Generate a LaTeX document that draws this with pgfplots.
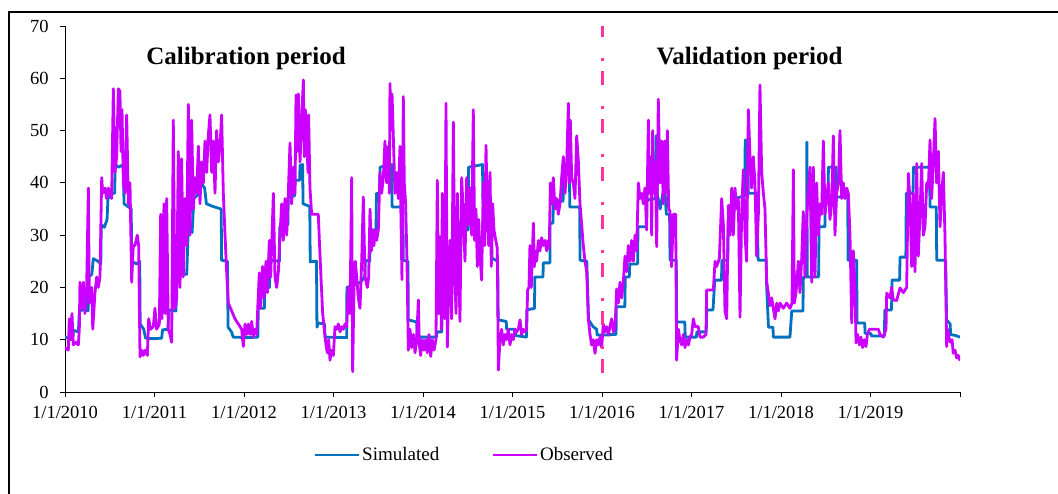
\documentclass[border=0pt]{standalone}
\usepackage{fontspec}
\setmainfont{Liberation Serif}
\usepackage{pgfplots}
\usepackage{pgfplotstable}
\pgfplotsset{compat=1.18}
\definecolor{simblue}{HTML}{0070C0}
\definecolor{obsmag}{HTML}{CC00FF}
\definecolor{divpink}{HTML}{FF3399}

\pgfplotstableread{
x y
2010.000 10.5
2010.050 10.2
2010.090 10.6
2010.093 11.8
2010.150 11.5
2010.160 15.5
2010.220 15.8
2010.258 15.5
2010.262 22
2010.300 22.5
2010.316 25.5
2010.370 25
2010.400 24.5
2010.405 32
2010.440 31.5
2010.470 33
2010.480 37
2010.520 38
2010.555 38
2010.560 43.5
2010.600 43
2010.650 43.5
2010.660 36
2010.700 35.5
2010.740 35
2010.745 25
2010.800 24.5
2010.835 25
2010.840 13
2010.880 12
2010.900 10.3
2011.000 10.2
2011.080 10.3
2011.090 11.9
2011.150 12
2011.160 15.7
2011.240 15.5
2011.250 22.7
2011.360 22.5
2011.378 31.6
2011.420 30.5
2011.440 37
2011.500 38
2011.520 40
2011.560 39
2011.580 36
2011.650 35.5
2011.745 35
2011.750 25.2
2011.815 25
2011.822 12.4
2011.860 11.5
2011.880 10.5
2012.050 10.4
2012.155 10.5
2012.160 17
2012.190 16
2012.228 16
2012.232 20
2012.285 20
2012.290 25.2
2012.395 25
2012.400 31.6
2012.490 32
2012.495 37.3
2012.565 37.5
2012.570 40.5
2012.622 40.5
2012.626 43.4
2012.655 43.5
2012.660 36
2012.735 35.5
2012.740 24.9
2012.810 25
2012.815 12.4
2012.830 13.2
2012.900 13
2012.905 10.5
2013.147 10.4
2013.150 20
2013.300 21
2013.350 22
2013.355 25.2
2013.405 25
2013.410 31
2013.475 31
2013.480 38
2013.515 38
2013.520 43
2013.650 43.5
2013.655 35.4
2013.775 35.4
2013.780 25.2
2013.832 25
2013.836 13.8
2013.930 13.4
2013.935 10.5
2014.150 10.5
2014.155 11.5
2014.210 11.5
2014.215 21
2014.400 22
2014.410 31
2014.505 31
2014.510 43
2014.665 43.5
2014.670 36
2014.765 36
2014.770 25.6
2014.835 25
2014.840 13.8
2014.930 13.5
2014.935 12
2015.030 12
2015.035 10.8
2015.155 10.5
2015.160 15.7
2015.245 16
2015.250 22
2015.340 22
2015.345 24.7
2015.418 24.7
2015.420 32.3
2015.452 32.3
2015.456 36.7
2015.565 36.5
2015.570 43
2015.636 43
2015.640 35.4
2015.750 35.4
2015.755 25.2
2015.830 25
2015.850 13.8
2015.900 12.5
2015.940 12
2015.945 10.9
2016.090 10.9
2016.095 11
2016.157 11
2016.160 16.3
2016.255 16.3
2016.260 22
2016.305 22
2016.310 24.5
2016.398 24.5
2016.402 31.6
2016.495 31.6
2016.500 36.7
2016.600 37
2016.603 49
2016.612 49
2016.616 38
2016.650 35
2016.700 40
2016.715 35
2016.720 34
2016.755 34
2016.760 25.2
2016.830 25.2
2016.834 13.4
2016.925 13.4
2016.930 10.5
2017.055 10.5
2017.060 11.5
2017.165 11.5
2017.170 15.7
2017.240 15.7
2017.260 21.4
2017.335 21.4
2017.340 25.2
2017.405 25.2
2017.410 32
2017.470 32
2017.475 37
2017.595 37.5
2017.600 48.2
2017.630 48.2
2017.635 38
2017.725 38
2017.745 25.2
2017.835 25.2
2017.840 20
2017.860 12.4
2017.910 12.4
2017.915 10.5
2018.100 10.5
2018.120 15.5
2018.245 15.5
2018.250 22
2018.286 22
2018.289 47.8
2018.293 22
2018.420 22
2018.425 31.6
2018.490 31.6
2018.495 37
2018.525 37
2018.530 43
2018.615 43
2018.620 37.3
2018.745 37.3
2018.750 25.2
2018.845 25.2
2018.850 13.2
2018.935 13.2
2018.940 11.2
2019.005 11.2
2019.010 10.7
2019.155 10.7
2019.160 15.7
2019.235 15.7
2019.240 21.4
2019.325 21.4
2019.330 25.8
2019.395 25.8
2019.400 38
2019.475 38
2019.480 43
2019.660 43
2019.665 35.4
2019.735 35.4
2019.740 25.2
2019.840 25.2
2019.850 13.8
2019.890 13
2019.895 11
2019.950 10.8
2020.000 10.5
}\simdata

\pgfplotstableread{
x y
2010.000 8.5
2010.020 8.2
2010.037 8
2010.048 14
2010.063 10
2010.078 15
2010.093 9
2010.120 9.5
2010.149 9
2010.160 12
2010.167 21
2010.186 16
2010.205 21
2010.223 15
2010.242 20
2010.261 39
2010.272 17
2010.298 20
2010.310 12
2010.335 19
2010.354 22
2010.372 20
2010.391 22
2010.410 41
2010.421 38
2010.447 39
2010.465 37
2010.484 39
2010.503 38
2010.521 37
2010.540 58
2010.559 42
2010.577 45
2010.596 58
2010.614 57.5
2010.626 46
2010.637 54
2010.652 40
2010.670 38
2010.689 53
2010.708 36
2010.726 40
2010.745 21
2010.763 28
2010.782 28
2010.808 30
2010.823 28
2010.838 6.7
2010.856 8
2010.875 7
2010.894 8
2010.920 7
2010.935 14
2010.957 12
2010.987 12.5
2011.005 16
2011.024 12
2011.054 13
2011.069 34
2011.084 14
2011.106 36
2011.121 15
2011.136 37
2011.154 12
2011.173 11
2011.192 9.5
2011.210 52
2011.229 16
2011.248 18
2011.266 46
2011.285 20
2011.303 44.6
2011.322 22
2011.341 37
2011.359 28
2011.378 55
2011.397 30
2011.415 52
2011.434 35
2011.452 41
2011.471 38
2011.490 47
2011.508 36
2011.527 44
2011.546 40
2011.564 48
2011.583 42
2011.601 49
2011.620 53
2011.639 42
2011.657 48
2011.676 38
2011.694 50
2011.713 44
2011.732 47
2011.750 53
2011.769 38
2011.788 30
2011.806 23
2011.825 17
2011.862 15.5
2011.899 14
2011.937 13
2011.974 12
2011.992 8.7
2012.011 13
2012.030 11
2012.048 13
2012.067 11
2012.086 13.5
2012.104 10.5
2012.123 12
2012.141 11
2012.171 22.8
2012.186 16
2012.208 24
2012.223 18
2012.246 25
2012.261 19
2012.283 29
2012.298 22
2012.328 38
2012.346 22
2012.365 20
2012.384 23
2012.402 30
2012.421 36
2012.439 29
2012.458 37
2012.477 30
2012.495 38
2012.514 47.6
2012.532 36
2012.551 43
2012.570 38
2012.581 56.8
2012.596 46
2012.607 57
2012.626 44
2012.644 52
2012.663 59.7
2012.674 45
2012.685 54
2012.700 48.8
2012.715 42
2012.722 53
2012.737 39
2012.756 34
2012.830 34
2012.842 29
2012.860 22
2012.879 15
2012.897 12
2012.916 9
2012.931 7.5
2012.946 10
2012.961 6.1
2012.979 8
2012.998 7
2013.017 12.5
2013.035 12
2013.054 13
2013.073 11.5
2013.091 12.5
2013.110 12
2013.128 13
2013.147 12.5
2013.166 20
2013.184 15
2013.203 41
2013.214 3.9
2013.229 20
2013.244 25
2013.259 22
2013.277 18
2013.296 16
2013.315 25
2013.333 37.3
2013.352 22
2013.378 20
2013.393 22
2013.408 35
2013.423 27
2013.438 31
2013.452 28
2013.467 31
2013.482 29
2013.501 31
2013.519 42
2013.538 38
2013.557 41
2013.575 48
2013.594 40
2013.613 47
2013.624 38
2013.631 59
2013.642 50
2013.654 57
2013.668 49
2013.687 38
2013.706 42
2013.724 37
2013.743 47
2013.754 33
2013.765 21.5
2013.780 56.5
2013.791 40
2013.806 36
2013.821 25
2013.836 8
2013.855 12
2013.873 8.5
2013.892 11
2013.911 7.5
2013.929 10
2013.948 17.6
2013.959 9
2013.974 7
2013.992 10
2014.011 8
2014.030 10
2014.048 7.5
2014.067 11
2014.086 6.8
2014.104 10
2014.123 8
2014.145 10
2014.160 40.5
2014.175 15
2014.190 29.7
2014.205 12
2014.216 38
2014.227 23
2014.242 14
2014.257 55.2
2014.272 8.6
2014.287 20
2014.302 29
2014.320 14
2014.339 51.6
2014.354 23
2014.369 15
2014.384 38
2014.398 25
2014.413 13.5
2014.432 41
2014.451 34
2014.469 25
2014.488 41
2014.506 32
2014.525 39
2014.544 30
2014.562 54
2014.577 29
2014.592 35
2014.607 24
2014.622 33
2014.637 26
2014.655 21.4
2014.674 40
2014.689 28
2014.704 47.2
2014.719 34
2014.734 28
2014.749 42
2014.763 24
2014.778 36
2014.793 31
2014.808 29.5
2014.830 27.5
2014.842 4.2
2014.860 10
2014.879 12
2014.897 9
2014.916 11
2014.935 10
2014.953 12
2014.972 9
2014.991 11
2015.009 10
2015.028 12
2015.046 11.5
2015.065 12
2015.084 13.8
2015.102 11
2015.121 12
2015.140 11.5
2015.158 12
2015.169 19.5
2015.184 20
2015.195 28
2015.210 20
2015.233 32.3
2015.244 24
2015.255 27
2015.270 25
2015.289 29
2015.307 27
2015.326 29.5
2015.344 28
2015.363 29
2015.382 27
2015.400 29
2015.411 27.5
2015.423 40
2015.438 36
2015.456 41
2015.475 35
2015.493 37
2015.512 34
2015.531 36
2015.549 41
2015.568 45
2015.587 38
2015.605 43
2015.624 55.2
2015.635 40
2015.646 52
2015.661 41
2015.680 39.9
2015.698 37
2015.717 49
2015.736 44
2015.754 36
2015.773 32
2015.791 28
2015.810 25
2015.829 23
2015.847 14
2015.866 11
2015.884 9
2015.903 10
2015.922 7.4
2015.940 10
2015.959 9
2015.978 10.5
2015.996 8.5
2016.015 13
2016.033 11.5
2016.052 12.5
2016.071 11
2016.089 12.5
2016.108 14
2016.127 11.5
2016.145 12
2016.164 19.7
2016.182 17
2016.201 21
2016.220 18
2016.238 21
2016.257 26
2016.276 23
2016.294 28
2016.313 25
2016.331 29
2016.350 25
2016.369 30
2016.387 27
2016.406 40
2016.425 37
2016.443 38
2016.462 36
2016.480 39
2016.499 31
2016.518 52
2016.529 38
2016.544 45
2016.555 30
2016.566 50
2016.581 38
2016.596 44
2016.611 27.8
2016.629 56
2016.648 40
2016.667 48
2016.685 36
2016.700 48
2016.715 38
2016.730 50
2016.745 35
2016.760 34.6
2016.778 24
2016.797 34
2016.823 34
2016.834 6.1
2016.853 12
2016.871 10
2016.890 9
2016.909 11
2016.927 8.5
2016.946 10
2016.965 9
2016.983 10.5
2017.002 11
2017.020 14
2017.039 12.5
2017.076 12.5
2017.095 10.5
2017.132 10.5
2017.162 11
2017.169 19.5
2017.207 19.5
2017.244 19.5
2017.263 25
2017.281 24
2017.311 25.5
2017.337 37
2017.356 32
2017.374 15.5
2017.393 14
2017.412 35.7
2017.430 30
2017.449 39
2017.467 30
2017.486 39
2017.505 35
2017.523 37
2017.542 14.3
2017.560 34
2017.579 42.5
2017.598 30
2017.616 25
2017.635 54
2017.654 45
2017.672 39
2017.691 45
2017.709 40
2017.728 26
2017.747 34
2017.765 58.7
2017.784 42
2017.803 38
2017.821 35
2017.840 21
2017.858 19
2017.877 16.5
2017.896 18
2017.914 16
2017.933 14
2017.952 17
2017.970 15.5
2017.989 17
2018.026 16
2018.063 17
2018.101 16
2018.123 17
2018.138 42.5
2018.149 17
2018.168 19
2018.194 25
2018.212 19
2018.231 25.5
2018.249 34.5
2018.268 22
2018.287 33
2018.305 39
2018.324 43
2018.343 21
2018.361 43
2018.380 22
2018.398 40
2018.417 30
2018.436 36
2018.454 34
2018.473 48
2018.492 34
2018.510 37
2018.529 40
2018.547 33
2018.566 36
2018.585 49
2018.603 30
2018.622 38
2018.641 40
2018.659 50
2018.678 37
2018.696 40
2018.715 37
2018.734 39
2018.752 38
2018.771 30
2018.790 13.2
2018.808 27
2018.827 20
2018.838 9.4
2018.857 11
2018.875 9
2018.894 10.5
2018.912 8.5
2018.931 10
2018.950 8.7
2018.965 11
2018.987 12
2019.013 12
2019.050 12
2019.088 12
2019.106 11
2019.143 10.5
2019.173 12
2019.181 18.9
2019.218 18
2019.236 20
2019.255 17.6
2019.292 17.5
2019.330 19.9
2019.367 19
2019.404 20
2019.423 41.8
2019.441 36.7
2019.460 24
2019.479 38
2019.497 23
2019.516 43.7
2019.534 26
2019.553 34
2019.572 43.7
2019.590 30
2019.609 31.6
2019.628 40
2019.646 39
2019.665 48.2
2019.683 37
2019.702 44
2019.721 52.3
2019.739 40
2019.758 46
2019.777 31.6
2019.795 38
2019.814 42
2019.832 30
2019.851 8.7
2019.862 12
2019.881 10
2019.896 9.5
2019.911 10
2019.925 7.4
2019.944 8
2019.963 6.5
2019.981 7
2020.000 6
}\obsdata

\begin{document}
\begin{tikzpicture}
\useasboundingbox (0pt,0pt) rectangle (1058pt,-494pt);
\draw[line width=2pt] (9pt,-494pt) -- (9pt,-12pt) -- (1058pt,-12pt);
\begin{axis}[
  at={(65pt,-392pt)}, anchor=south west,
  scale only axis, width=895pt, height=366pt,
  xmin=2010, xmax=2020, ymin=0, ymax=70,
  axis x line*=bottom, axis y line*=left,
  axis line style={line width=1pt, black},
  xtick={2010,2011,2012,2013,2014,2015,2016,2017,2018,2019,2020},
  xticklabels={1/1/2010,1/1/2011,1/1/2012,1/1/2013,1/1/2014,1/1/2015,1/1/2016,1/1/2017,1/1/2018,1/1/2019,{}},
  ytick={0,10,20,30,40,50,60,70},
  tick align=outside,
  major tick length=5pt,
  tick style={line width=1pt, black},
  ticklabel style={font=\fontsize{18.5}{20}\selectfont},
  xticklabel style={yshift=-6pt},
  yticklabel style={xshift=-8pt},
  /pgf/number format/assume math mode=true,
  legend columns=2,
  legend style={at={(rel axis cs:0.446,-0.172)}, anchor=center, draw=none, fill=none,
    font=\fontsize{19}{21}\selectfont,
    /tikz/every even column/.append style={column sep=50pt}},
  legend image code/.code={\draw[#1] (0pt,0pt) -- (40pt,0pt); \path (0pt,0pt) -- (44pt,0pt);},
]
\addplot[simblue, line width=2.8pt, line join=round] table[x=x,y=y] {\simdata};
\addlegendentry{Simulated}
\addplot[obsmag, line width=2.8pt, line join=round] table[x=x,y=y] {\obsdata};
\addlegendentry{Observed}
\draw[divpink, line width=3pt, dash pattern=on 14pt off 21pt on 3pt off 10pt] (axis cs:2016,70.5) -- (axis cs:2016,0);
\node[anchor=base west, font=\fontsize{25}{30}\selectfont\bfseries] at (axis cs:2010.87,62.7) {Calibration period};
\node[anchor=base west, font=\fontsize{25}{30}\selectfont\bfseries] at (axis cs:2016.57,62.7) {Validation period};
\end{axis}
\end{tikzpicture}
\end{document}
